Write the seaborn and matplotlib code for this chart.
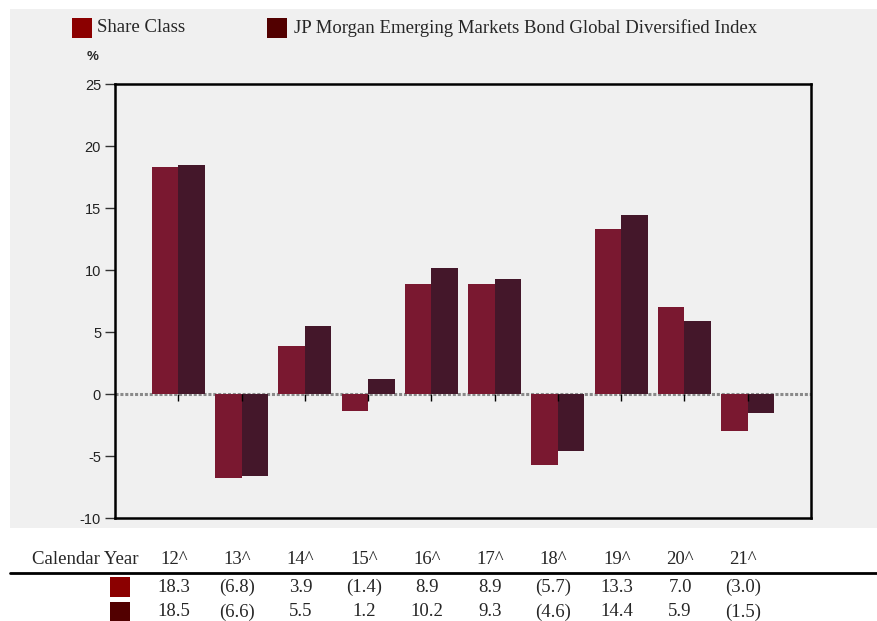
import pandas as pd
import seaborn as sns
import matplotlib.pyplot as plt
from matplotlib.patches import Rectangle
from matplotlib import transforms
import numpy as np


years = ['12^', '13^', '14^', '15^', '16^', '17^', '18^', '19^', '20^', '21^']
share_class = [18.3, -6.8, 3.9, -1.4, 8.9, 8.9, -5.7, 13.3, 7.0, -3.0]
index_vals = [18.5, -6.6, 5.5, 1.2, 10.2, 9.3, -4.6, 14.4, 5.9, -1.5]
series_names = ['Share Class', 'JP Morgan Emerging Markets Bond Global Diversified Index']
y_ticks = [-10, -5, 0, 5, 10, 15, 20, 25]

BAR_COLORS = ['#7A1830', '#44172A']
KEY_COLORS = ['#8B0000', '#520000']
PANEL = '#F0F0F0'

W, H = 878, 621


def fx(x):
    return x / W


def fy(y):
    return 1 - y / H


def fmt_val(v):
    # negatives are shown in brackets
    return f'({abs(v):.1f})' if v < 0 else f'{v:.1f}'


df = pd.DataFrame({
    'year': years * 2,
    'value': share_class + index_vals,
    'series': [series_names[0]] * len(years) + [series_names[1]] * len(years),
})

sns.set_style('white')
plt.rcParams['font.family'] = ['Liberation Serif', 'DejaVu Serif']

fig = plt.figure(figsize=(W / 100, H / 100), dpi=100, facecolor='white')

# grey panel behind the chart
fig.add_artist(Rectangle((fx(10), fy(528)), fx(867), 519 / H, transform=fig.transFigure,
                         facecolor=PANEL, edgecolor='none', zorder=0))

ax = fig.add_axes([fx(115), fy(518), fx(696), 434 / H])
ax.set_facecolor(PANEL)

sns.barplot(data=df, x='year', y='value', hue='series', palette=BAR_COLORS,
            width=0.84, saturation=1, legend=False, ax=ax, zorder=2,
            linewidth=0, edgecolor='none')

ax.set_xlim(-1, len(years))
ax.set_ylim(-10, 25)
ax.set_yticks(y_ticks)
ax.set_yticklabels([str(t) for t in y_ticks], family='Liberation Sans', fontsize=10.5, color='#222222')
ax.tick_params(axis='y', direction='out', length=7, width=1, color='#333333', pad=3, left=True)
ax.set_xticks([])
ax.set_xlabel('')
ax.set_ylabel('')
for sp in ax.spines.values():
    sp.set_color('black')
    sp.set_linewidth(1.8)

ax.axhline(0, color='#8A8A8A', linestyle=(0, (1, 0.6)), linewidth=2.2, zorder=1.5)
ax.vlines(np.arange(len(years)), -0.55, 0, color='black', linewidth=1, zorder=4)

fig.text(fx(87), fy(57), '%', family='Liberation Sans', fontsize=9.5, fontweight='bold',
         va='center', ha='left')

# legend along the top
for sx, tx, color, name in zip([72, 267], [97, 294], KEY_COLORS, series_names):
    fig.add_artist(Rectangle((fx(sx), fy(38)), fx(20), 20 / H, transform=fig.transFigure,
                             facecolor=color, edgecolor='none'))
    fig.text(fx(tx), fy(28), name, fontsize=13.5, va='center', ha='left')

# table under the chart
tr = transforms.blended_transform_factory(ax.transData, fig.transFigure)
fig.text(fx(32), fy(559), 'Calendar Year', fontsize=13.5, va='center', ha='left')
for i, yr in enumerate(years):
    fig.text(i - 0.07, fy(559), yr, transform=tr, fontsize=13.5, va='center', ha='center')
    fig.text(i - 0.07, fy(587), fmt_val(share_class[i]), transform=tr, fontsize=13.5,
             va='center', ha='center')
    fig.text(i - 0.07, fy(612), fmt_val(index_vals[i]), transform=tr, fontsize=13.5,
             va='center', ha='center')

fig.add_artist(plt.Line2D([fx(10), 1], [fy(573), fy(573)], transform=fig.transFigure,
                          color='black', linewidth=2))
for sy, color in zip([597, 622], KEY_COLORS):
    fig.add_artist(Rectangle((fx(110), fy(sy)), fx(20), 20 / H, transform=fig.transFigure,
                             facecolor=color, edgecolor='none'))

fig.savefig('out.png', dpi=100, facecolor='white')
